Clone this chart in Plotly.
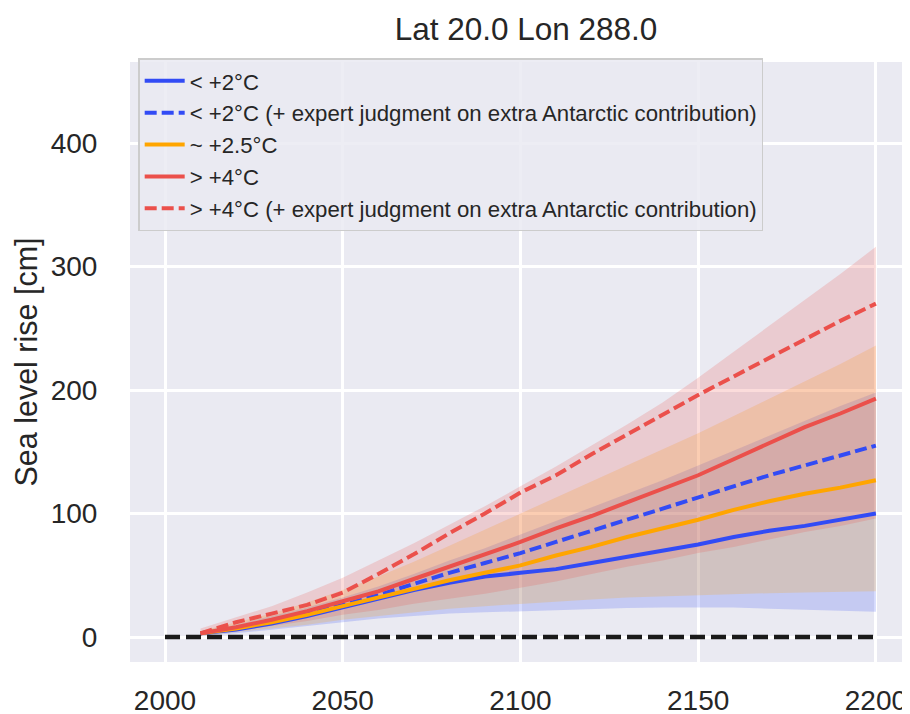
import plotly.graph_objects as go

years = [2010, 2020, 2030, 2040, 2050, 2060, 2070, 2080, 2090, 2100,
         2110, 2120, 2130, 2140, 2150, 2160, 2170, 2180, 2190, 2200]

# < +2°C
low_med = [3, 6, 11, 17, 24, 31, 38, 44, 49, 52, 55, 60, 65, 70, 75, 81, 86, 90, 95, 100]
low_lo = [1, 3, 6, 9, 12, 15, 17, 19, 20, 21, 22, 23, 23.5, 24, 24, 24, 23, 22, 21, 20.5]
low_hi = [5, 10, 17, 24, 32, 41, 51, 62, 72, 83, 94, 105, 116, 127, 139, 151, 163, 175, 187, 198]
low_exp = [3, 7, 13, 19, 26, 34, 43, 52, 60, 68, 77, 86, 95, 104, 113, 122, 131, 139, 147, 155]

# ~ +2.5°C
mid_med = [3, 7, 12, 18, 25, 32, 39, 46, 52, 58, 66, 73, 81, 88, 95, 103, 110, 116, 121, 127]
mid_lo = [1, 4, 7, 10, 14, 17, 20, 23, 25, 27, 29, 30.5, 32, 33, 34, 35, 35.5, 36, 36.5, 37]
mid_hi = [5, 12, 19, 28, 38, 49, 61, 74, 87, 100, 113, 126, 139, 152, 165, 179, 193, 207, 221, 236]

# > +4°C
high_med = [3, 8, 14, 21, 29, 37, 47, 57, 67, 77, 88, 98, 109, 120, 131, 144, 157, 170, 181, 193]
high_lo = [2, 5, 9, 13, 18, 22, 27, 31, 35, 40, 45, 51, 57, 62, 68, 73, 79, 85, 90, 96]
high_hi = [7, 16, 25, 36, 48, 62, 76, 91, 106, 122, 138, 155, 172, 190, 210, 231, 252, 273, 294, 316]
high_exp = [3, 12, 19, 26, 36, 51, 67, 84, 100, 117, 131, 148, 164, 180, 196, 211, 226, 241, 256, 270]

zero_x = [2000, 2200]
zero_y = [0, 0]

title = "Lat 20.0 Lon 288.0"
ylabel = "Sea level rise [cm]"
x_ticks = [2000, 2050, 2100, 2150, 2200]
y_ticks = [0, 100, 200, 300, 400]

BLUE = "rgb(50,75,245)"
ORANGE = "rgb(255,165,0)"
RED = "rgb(235,80,75)"

def rgba(c, a):
    return c.replace("rgb(", "rgba(").replace(")", f",{a})")

fig = go.Figure()

for lo, hi, col in [(low_lo, low_hi, BLUE), (mid_lo, mid_hi, ORANGE), (high_lo, high_hi, RED)]:
    fig.add_trace(go.Scatter(x=years, y=lo, mode="lines", line=dict(width=0),
                             showlegend=False, hoverinfo="skip"))
    fig.add_trace(go.Scatter(x=years, y=hi, mode="lines", line=dict(width=0),
                             fill="tonexty", fillcolor=rgba(col, 0.2),
                             showlegend=False, hoverinfo="skip"))

dash = "12px,5px"
series = [
    (low_med, BLUE, "solid", "< +2°C"),
    (low_exp, BLUE, dash, "< +2°C (+ expert judgment on extra Antarctic contribution)"),
    (mid_med, ORANGE, "solid", "~ +2.5°C"),
    (high_med, RED, "solid", "> +4°C"),
    (high_exp, RED, dash, "> +4°C (+ expert judgment on extra Antarctic contribution)"),
]
for i, (ys, col, d, name) in enumerate(series):
    fig.add_trace(go.Scatter(x=years, y=ys, mode="lines", name=name,
                             legendgroup=f"g{i}",
                             line=dict(color=col, width=4, dash=d)))

fig.add_trace(go.Scatter(x=zero_x, y=zero_y, mode="lines", showlegend=False,
                         line=dict(color="#1a1a1a", width=4.5, dash="15px,6px")))

font_family = "Liberation Sans, Arial, Helvetica, sans-serif"

# page body has an 8px default margin, so the figure is 8px smaller and shifted
fig.update_layout(
    width=902, height=706,
    paper_bgcolor="white", plot_bgcolor="#eaeaf2",
    margin=dict(l=122, r=0, t=54, b=52, autoexpand=False),
    font=dict(family=font_family, color="#262626", size=28),
    title=dict(text=title, x=0.5743, xanchor="center", y=0.9703, yanchor="middle",
               font=dict(size=31.5, color="#262626"), automargin=False),
    showlegend=True,
    legend=dict(x=0.0105, y=1.006, xanchor="left", yanchor="top",
                bgcolor="rgba(234,234,242,0.85)", bordercolor="#cccccc", borderwidth=1.5,
                font=dict(size=22.2, color="#262626"),
                traceorder="grouped", tracegroupgap=0,
                itemwidth=40),
    xaxis=dict(range=[1990.15, 2209.6], tickvals=x_ticks, showgrid=True,
               gridcolor="white", gridwidth=2.5, zeroline=False, showline=False,
               ticks="outside", ticklen=13, tickcolor="rgba(0,0,0,0)",
               tickfont=dict(size=28), automargin=False),
    yaxis=dict(range=[-20.2, 465.6], tickvals=y_ticks, showgrid=True,
               gridcolor="white", gridwidth=2.5, zeroline=False, showline=False,
               ticks="outside", ticklen=26, tickcolor="rgba(0,0,0,0)",
               tickfont=dict(size=28), automargin=False,
               title=dict(text=ylabel, font=dict(size=30.5), standoff=4)),
)

fig.write_html("out.html")
